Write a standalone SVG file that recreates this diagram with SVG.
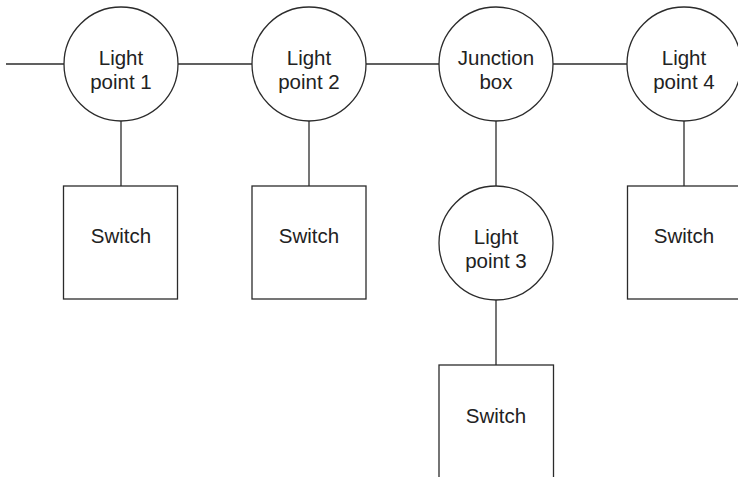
<svg xmlns="http://www.w3.org/2000/svg" width="738" height="477" viewBox="0 0 738 477">
  <style>
    .shape { fill: #ffffff; stroke: #2b2b2b; stroke-width: 1.3; }
    .wire { fill: none; stroke: #2b2b2b; stroke-width: 1.3; }
    .label { font-family: "Liberation Sans", Arial, sans-serif; font-size: 20.5px; fill: #222222; text-anchor: middle; }
  </style>
  <rect x="0" y="0" width="738" height="477" fill="#ffffff"/>
  <g id="connectors">
    <line class="wire" x1="6" y1="64" x2="64" y2="64"/>
    <line class="wire" x1="178" y1="64" x2="252" y2="64"/>
    <line class="wire" x1="366" y1="64" x2="439" y2="64"/>
    <line class="wire" x1="553" y1="64" x2="627" y2="64"/>
    <line class="wire" x1="121" y1="121" x2="121" y2="186"/>
    <line class="wire" x1="309" y1="121" x2="309" y2="186"/>
    <line class="wire" x1="496" y1="121" x2="496" y2="186"/>
    <line class="wire" x1="684" y1="121" x2="684" y2="186"/>
    <line class="wire" x1="496" y1="300" x2="496" y2="365"/>
  </g>
  <g id="light-point-1">
    <circle class="shape" cx="121" cy="64" r="57"/>
    <text class="label" x="121" y="65">Light</text>
    <text class="label" x="121" y="89">point 1</text>
  </g>
  <g id="light-point-2">
    <circle class="shape" cx="309" cy="64" r="57"/>
    <text class="label" x="309" y="65">Light</text>
    <text class="label" x="309" y="89">point 2</text>
  </g>
  <g id="junction-box">
    <circle class="shape" cx="496" cy="64" r="57"/>
    <text class="label" x="496" y="65">Junction</text>
    <text class="label" x="496" y="89">box</text>
  </g>
  <g id="light-point-4">
    <circle class="shape" cx="684" cy="64" r="57"/>
    <text class="label" x="684" y="65">Light</text>
    <text class="label" x="684" y="89">point 4</text>
  </g>
  <g id="light-point-3">
    <circle class="shape" cx="496" cy="243" r="57"/>
    <text class="label" x="496" y="244">Light</text>
    <text class="label" x="496" y="268">point 3</text>
  </g>
  <g id="switch-1">
    <rect class="shape" x="63.5" y="186" width="114" height="113"/>
    <text class="label" x="121" y="243">Switch</text>
  </g>
  <g id="switch-2">
    <rect class="shape" x="252" y="186" width="114" height="113"/>
    <text class="label" x="309" y="243">Switch</text>
  </g>
  <g id="switch-4">
    <rect class="shape" x="627.5" y="186" width="114" height="113"/>
    <text class="label" x="684" y="243">Switch</text>
  </g>
  <g id="switch-3">
    <rect class="shape" x="439" y="365" width="114.5" height="120"/>
    <text class="label" x="496" y="423">Switch</text>
  </g>
</svg>
